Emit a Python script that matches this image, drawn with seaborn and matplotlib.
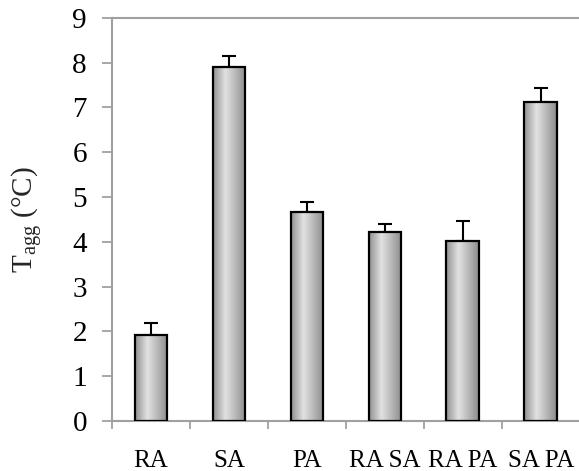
import numpy as np
import pandas as pd
import matplotlib
matplotlib.use("Agg")
import matplotlib.pyplot as plt
import seaborn as sns
from matplotlib.colors import LinearSegmentedColormap

categories = ["RA", "SA", "PA", "RA SA", "RA PA", "SA PA"]
values = [1.92, 7.90, 4.66, 4.23, 4.01, 7.13]
errors = [0.26, 0.24, 0.24, 0.16, 0.45, 0.31]
yticks = [0, 1, 2, 3, 4, 5, 6, 7, 8, 9]

sns.set_theme(style="white")
plt.rcParams['font.family'] = ['Liberation Serif', 'DejaVu Serif']
plt.rcParams['mathtext.fontset'] = 'custom'
plt.rcParams['mathtext.rm'] = 'Liberation Serif'
plt.rcParams['mathtext.it'] = 'Liberation Serif:italic'

fig = plt.figure(figsize=(5.79, 4.71), dpi=100)
ax = fig.add_axes([0.1934, 0.106, 0.808, 0.856])

df = pd.DataFrame({"cat": categories, "val": values})
sns.barplot(data=df, x="cat", y="val", ax=ax, width=0.42, color="#bbbbbb",
            edgecolor="black", linewidth=1.6, errorbar=None, zorder=3)

x = np.arange(len(categories))
ax.errorbar(x=x, y=values, yerr=[np.zeros(len(values)), errors], fmt='none',
            ecolor='black', elinewidth=1.5, capsize=5, capthick=1.5, zorder=2)

cmap = LinearSegmentedColormap.from_list(
    "bargrad", [(0.0, "#909090"), (0.38, "#e2e2e2"), (1.0, "#8c8c8c")])
grad = np.linspace(0, 1, 256).reshape(1, -1)
for p in list(ax.patches):
    x0, y0, w, h = p.get_x(), p.get_y(), p.get_width(), p.get_height()
    im = ax.imshow(grad, cmap=cmap, extent=[x0, x0 + w, y0, y0 + h],
                   aspect='auto', zorder=2.5, interpolation='bicubic')
    im.set_clip_path(p)
    p.set_facecolor('none')

ax.set_xlim(-0.5, 5.5)
ax.set_ylim(0, 9)
ax.set_yticks(yticks)
ax.set_yticklabels([str(t) for t in yticks], fontsize=21)
ax.set_xticks(x)
ax.set_xticklabels(categories, fontsize=18)
ax.set_xticks(np.arange(-0.5, 5.5, 1.0), minor=True)
ax.tick_params(axis='x', which='major', length=0, pad=21, colors='black')
ax.tick_params(axis='x', which='minor', length=6, width=1.3, color='#a0a0a0',
               direction='out', bottom=True)
ax.tick_params(axis='y', which='major', length=7, width=1.3, color='#a0a0a0',
               direction='out', left=True, pad=11, labelcolor='black')

ax.set_xlabel("")
ax.set_ylabel(r"T$_{\mathrm{agg}}$ (°C)", fontsize=21, labelpad=20)

for side in ['left', 'bottom', 'top']:
    ax.spines[side].set_visible(True)
    ax.spines[side].set_color('#a0a0a0')
    ax.spines[side].set_linewidth(1.5)
ax.spines['right'].set_visible(False)
ax.grid(False)

fig.savefig("out.png", dpi=100)
